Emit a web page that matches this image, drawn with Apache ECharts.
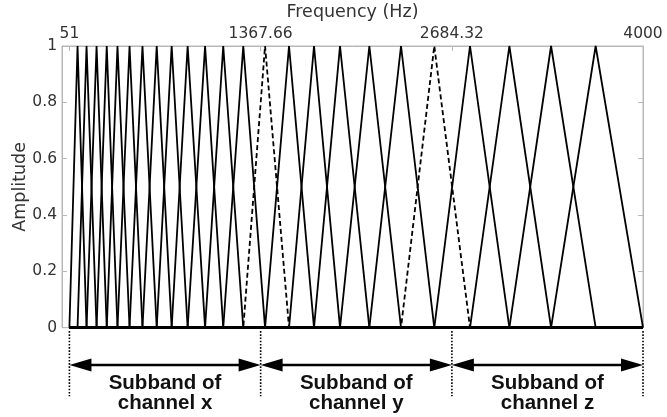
<!DOCTYPE html>
<html><head><meta charset="utf-8">
<script src="https://cdn.jsdelivr.net/npm/echarts@6/dist/echarts.min.js"></script>
<style>html,body{margin:0;padding:0;background:#fff}#c{width:667px;height:417px}</style>
</head><body><div id="c"></div>
<script>
// Filter bank edge / centre frequencies (Hz)
const filterPoints = [51, 107, 169, 238, 308, 382, 465, 554, 652, 755, 865, 985, 1110, 1248,
  1398, 1563, 1735, 1914, 2116, 2334, 2563, 2809, 3080, 3367, 3674, 4000];
// Centres of the dashed (boundary) filters
const dashedCenters = [1398, 2563];
// Subband boundaries / top tick values
const subbandBounds = [51, 1367.66, 2684.32, 4000];
const xTickLabels = ['51', '1367.66', '2684.32', '4000'];
const channelNames = ['x', 'y', 'z'];

const FONT = '"DejaVu Sans", sans-serif';
const AX = '#b8b8b8';
const TXT = '#333';
const ANN = { dotTop: -0.012, dotBottom: -0.243, arrowY: -0.132, text1: -0.196, text2: -0.27 };

const chart = echarts.init(document.getElementById('c'), null, { renderer: 'canvas' });
const series = [];
const first = filterPoints[0], last = filterPoints[filterPoints.length - 1];
for (let k = 1; k < filterPoints.length - 1; k++) {
  const c = filterPoints[k];
  const dashed = dashedCenters.includes(c);
  series.push({
    type: 'line', silent: true, symbol: 'none', animation: false, clip: false,
    data: [[first, 0], [filterPoints[k - 1], 0], [c, 1], [filterPoints[k + 1], 0], [last, 0]],
    lineStyle: { color: '#000', width: 1.8, type: dashed ? [5, 3] : 'solid' },
    z: dashed ? 3 : 2
  });
}
// dotted boundary lines below the plot
series.push({
  type: 'custom', coordinateSystem: 'cartesian2d', clip: false, silent: true, animation: false,
  data: subbandBounds.map(v => [v]),
  renderItem(params, api) {
    const x = api.value(0);
    const p1 = api.coord([x, ANN.dotTop]), p2 = api.coord([x, ANN.dotBottom]);
    return { type: 'line', shape: { x1: p1[0], y1: p1[1], x2: p2[0], y2: p2[1] },
      style: { stroke: '#000', lineWidth: 1.6, lineDash: [1.6, 1.6] } };
  }
});
// double arrows and subband captions
series.push({
  type: 'custom', coordinateSystem: 'cartesian2d', clip: false, silent: true, animation: false,
  data: channelNames.map((n, i) => [subbandBounds[i], subbandBounds[i + 1], i]),
  renderItem(params, api) {
    const a = api.coord([api.value(0), ANN.arrowY]);
    const b = api.coord([api.value(1), ANN.arrowY]);
    const y = a[1], L = 22, H = 6.5;
    const mid = (a[0] + b[0]) / 2;
    const name = channelNames[api.value(2)];
    const t1 = api.coord([api.value(0), ANN.text1])[1];
    const t2 = api.coord([api.value(0), ANN.text2])[1];
    const ts = { font: 'bold 20.5px "Liberation Sans", Arial, sans-serif', fill: '#111', align: 'center', verticalAlign: 'middle' };
    return { type: 'group', children: [
      { type: 'line', shape: { x1: a[0] + L - 2, y1: y, x2: b[0] - L + 2, y2: y }, style: { stroke: '#000', lineWidth: 2.5 } },
      { type: 'polygon', shape: { points: [[a[0], y], [a[0] + L, y - H], [a[0] + L, y + H]] }, style: { fill: '#000' } },
      { type: 'polygon', shape: { points: [[b[0], y], [b[0] - L, y - H], [b[0] - L, y + H]] }, style: { fill: '#000' } },
      { type: 'text', x: mid, y: t1, style: Object.assign({ text: 'Subband of' }, ts) },
      { type: 'text', x: mid, y: t2, style: Object.assign({ text: 'channel ' + name }, ts) }
    ] };
  }
});

chart.setOption({
  animation: false,
  backgroundColor: '#fff',
  grid: { left: 62, right: 24, top: 46, bottom: 89.3, show: true, borderColor: AX, borderWidth: 1,
    containLabel: false, outerBoundsMode: 'none' },
  xAxis: [{
    type: 'value', position: 'top', min: 0, max: 4000,
    name: 'Frequency (Hz)', nameLocation: 'middle', nameGap: 25, nameMoveOverlap: false,
    nameTextStyle: { fontFamily: FONT, fontSize: 17.5, color: TXT },
    axisLine: { show: true, onZero: false, lineStyle: { color: AX, width: 1 } },
    axisTick: { show: true, inside: true, length: 5, customValues: subbandBounds, lineStyle: { color: AX } },
    axisLabel: { show: true, customValues: subbandBounds, margin: 4, fontFamily: FONT, fontSize: 15.5, color: TXT,
      formatter: v => xTickLabels[subbandBounds.indexOf(v)] },
    splitLine: { show: false }
  }],
  yAxis: [{
    type: 'value', position: 'left', min: 0, max: 1, interval: 0.2,
    name: 'Amplitude', nameLocation: 'middle', nameGap: 33, nameRotate: 90, nameMoveOverlap: false,
    nameTextStyle: { fontFamily: FONT, fontSize: 17.5, color: TXT },
    axisLine: { show: true, onZero: false, lineStyle: { color: AX, width: 1 } },
    axisTick: { show: true, inside: true, length: 5, lineStyle: { color: AX } },
    axisLabel: { margin: 5, fontFamily: FONT, fontSize: 15.5, color: TXT },
    splitLine: { show: false }
  }, {
    type: 'value', position: 'right', min: 0, max: 1, interval: 0.2,
    axisLine: { show: true, onZero: false, lineStyle: { color: AX, width: 1 } },
    axisTick: { show: true, inside: true, length: 5, lineStyle: { color: AX } },
    axisLabel: { show: false }, splitLine: { show: false }
  }],
  series: series
});
</script></body></html>
